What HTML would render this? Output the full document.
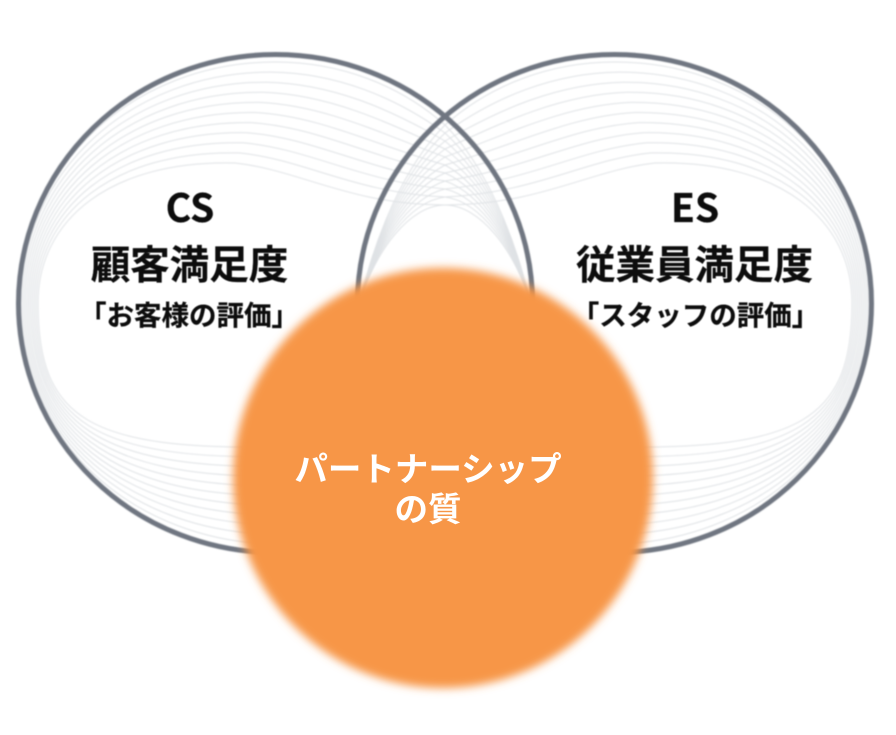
<!DOCTYPE html>
<html lang="ja"><head><meta charset="utf-8"><title>CS ES パートナーシップの質</title>
<style>
html,body{margin:0;padding:0;background:#fff}
svg{display:block}
text{font-family:"Noto Sans CJK JP",sans-serif;font-weight:700;text-anchor:middle}
.d{fill:#111;stroke:#111;stroke-width:.25;filter:url(#t)}
.w{fill:#fff;font-size:33.500px;font-family:"Liberation Sans","Noto Sans CJK JP",sans-serif}
</style></head><body>
<svg width="896" height="735" viewBox="0 0 896 735" xmlns="http://www.w3.org/2000/svg">
<defs>
<filter id="b" x="-10%" y="-10%" width="120%" height="120%"><feGaussianBlur stdDeviation="4.500"/></filter>
<filter id="r" x="-5%" y="-5%" width="110%" height="110%"><feGaussianBlur stdDeviation=".7"/></filter>
<filter id="t" x="-5%" y="-20%" width="110%" height="140%"><feGaussianBlur stdDeviation=".45"/></filter>
<g id="l" fill="none" stroke="#dfe2e5" stroke-width="1">
<path d="M19 303C19 166 134 62 275 62C340 62 400 85 445 125C485 165 515 235 531 305"/>
<path d="M20.900 303C20.900 171.400 131.600 71.800 271 72.100C336 72.800 395 97 445 133C484.500 169 515 236.500 531 305"/>
<path d="M22.800 303C22.800 176.800 129.200 81.600 267 82.200C332 83.600 390 109 445 141C484 173 515 238 531 305"/>
<path d="M24.700 303C24.700 182.200 126.800 91.400 263 92.300C328 94.400 385 121 445 149C483.500 177 515 239.500 531 305"/>
<path d="M26.600 303C26.600 187.600 124.400 101.200 259 102.400C324 105.200 380 133 445 157C483 181 515 241 531 305"/>
<path d="M28.500 303C28.500 193 122 111 255 112.500C320 116 375 145 445 165C482.500 185 515 242.500 531 305"/>
<path d="M30.400 303C30.400 198.400 119.600 120.800 251 122.600C316 126.800 370 157 445 173C482 189 515 244 531 305"/>
<path d="M32.300 303C32.300 203.800 117.200 130.600 247 132.700C312 137.600 365 169 445 181C481.500 193 515 245.500 531 305"/>
<path d="M34.200 303C34.200 209.200 114.800 140.400 243 142.800C308 148.400 360 181 445 189C481 197 515 247 531 305"/>
<path d="M36.100 303C36.100 214.600 112.400 150.200 239 152.900C304 159.200 355 193 445 197C480.500 201 515 248.500 531 305"/>
<path d="M38 303C38 220 110 160 235 163C300 170 350 205 445 205C480 205 515 250 531 305"/>
<path d="M19 303C19 440 134 544 280 544"/>
<path d="M20.900 303C20.900 438 129.600 534.600 280 534.300"/>
<path d="M22.800 303C22.800 436 125.200 525.200 280 524.600"/>
<path d="M24.700 303C24.700 434 120.800 515.800 280 514.900"/>
<path d="M26.600 303C26.600 432 116.400 506.400 280 505.200"/>
<path d="M28.500 303C28.500 430 112 497 280 495.500"/>
<path d="M30.400 303C30.400 428 107.600 487.600 280 485.800"/>
<path d="M32.300 303C32.300 426 103.200 478.200 280 476.100"/>
<path d="M34.200 303C34.200 424 98.800 468.800 280 466.400"/>
<path d="M36.100 303C36.100 422 94.400 459.400 280 456.700"/>
<path d="M38 303C38 420 90 450 280 447"/>
</g>
</defs>
<g filter="url(#r)">
<use href="#l"/>
<use href="#l" transform="translate(890 0) scale(-1 1)"/>
</g>
<g fill="none" stroke="#6f7681" stroke-width="5" filter="url(#r)">
<ellipse cx="275.500" cy="303.500" rx="257" ry="249"/>
<ellipse cx="614.500" cy="303.500" rx="257" ry="249"/>
</g>
<text class="d" x="190" y="222" font-size="39">CS</text>
<text class="d" x="189.500" y="279" font-size="39.500">顧客満足度</text>
<text class="d" x="189" y="325" font-size="27.500">「お客様の評価」</text>
<text class="d" x="695" y="222" font-size="39">ES</text>
<text class="d" x="694.500" y="279" font-size="39.500">従業員満足度</text>
<text class="d" x="695.500" y="325" font-size="27.500">「スタッフの評価」</text>
<circle cx="443" cy="478" r="210" fill="#f79646" filter="url(#b)"/>
<text class="w" x="428" y="481">パートナーシップ</text>
<text class="w" x="428" y="521">の質</text>
</svg>
</body></html>
